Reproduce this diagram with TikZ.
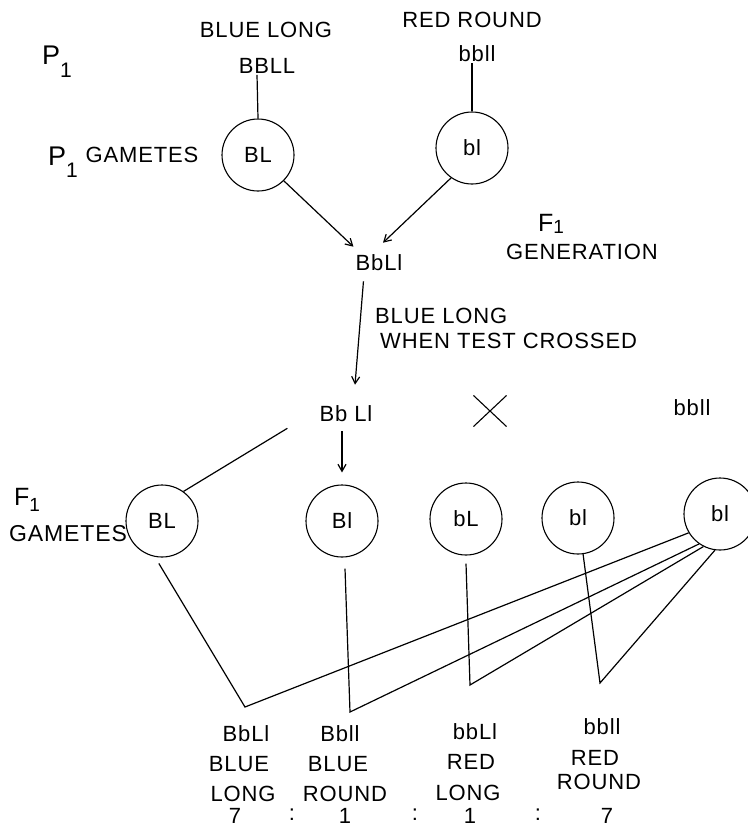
\documentclass[tikz,border=0pt]{standalone}
\usepackage{fontspec}
\setmainfont{Liberation Sans}[LetterSpace=4]
\usetikzlibrary{arrows.meta,shapes.misc}
\begin{document}
\begin{tikzpicture}[x=1pt,y=-1pt,
  lbl/.style={font=\fontsize{22}{24}\selectfont, inner sep=1pt},
  big/.style={font=\fontsize{27}{29}\selectfont, inner sep=1pt},
  gam/.style={circle, draw, line width=1.1pt, minimum size=72pt, inner sep=0pt, font=\fontsize{22}{24}\selectfont},
  ln/.style={line width=1.2pt},
  arr/.style={ln, -{Straight Barb[length=7pt,width=8pt]}}]
\useasboundingbox (0,0) rectangle (747,830);
\fill[white] (0,0) rectangle (747,830);

% P1 parents
\node[big, anchor=west] (P1a) at (41,62) {P\raisebox{-13pt}{\fontsize{21}{21}\selectfont 1}};
\node[lbl] (blueLongT) at (266,30) {BLUE LONG};
\node[lbl] (BBLL) at (267,66) {BBLL};
\node[lbl] (redRoundT) at (472,20) {RED ROUND};
\node[lbl] (bbllT) at (477,54) {bbll};

% P1 gametes
\node[big, anchor=west] (P1b) at (47,162) {P\raisebox{-12pt}{\fontsize{21}{21}\selectfont 1}};
\node[lbl] (gamT1) at (142,155) {GAMETES};
\node[gam] (cBL1) at (258,155) {BL};
\node[gam] (cbl1) at (472,148) {bl};

% F1
\node[lbl] (BbLl) at (379,263) {BbLl};
\node[lbl, font=\fontsize{25}{27}\selectfont] (F1gen) at (551,224) {F\raisebox{-2pt}{\fontsize{19}{19}\selectfont 1}};
\node[lbl] (genT) at (582,252) {GENERATION};
\node[lbl, anchor=west] (tc1) at (374,316) {BLUE LONG};
\node[lbl, anchor=west] (tc2) at (379,341) {WHEN TEST CROSSED};

% test cross
\node[lbl] (BbLl2) at (346,414) {Bb Ll};
\node[draw, cross out, line width=1.1pt, minimum width=32pt, minimum height=30pt, inner sep=0pt] (X) at (490,411) {};
\node[lbl] (bbllR) at (692,408) {bbll};

% F1 gametes
\node[lbl, font=\fontsize{25}{27}\selectfont, anchor=west] (F1g) at (13,500) {F\raisebox{-6pt}{\fontsize{19}{19}\selectfont 1}};
\node[lbl, font=\fontsize{23}{25}\selectfont] (gamT2) at (68,534) {GAMETES};
\node[gam] (cBL2) at (162,521) {BL};
\node[gam] (cBl) at (342,521) {Bl};
\node[gam] (cbL) at (466,519) {bL};
\node[gam] (cbl2) at (578,518) {bl};
\node[gam] (cbl3) at (720,514) {bl};

% offspring labels
\node[lbl] (o1a) at (246,734) {BbLl};
\node[lbl] (o2a) at (340,734) {Bbll};
\node[lbl] (o3a) at (475,732) {bbLl};
\node[lbl] (o4a) at (602,727) {bbll};
\node[lbl] (o1b) at (239,764) {BLUE};
\node[lbl] (o2b) at (338,764) {BLUE};
\node[lbl] (o3b) at (471,762) {RED};
\node[lbl] (o4b) at (595,758) {RED};
\node[lbl] (o1c) at (243,794) {LONG};
\node[lbl] (o2c) at (345,794) {ROUND};
\node[lbl] (o3c) at (468,793) {LONG};
\node[lbl] (o4c) at (599,782) {ROUND};
\node[lbl] (n1) at (235,816) {7};
\node[lbl] (s1) at (292,815) {:};
\node[lbl] (n2) at (345,816) {1};
\node[lbl] (s2) at (415,815) {:};
\node[lbl] (n3) at (470,816) {1};
\node[lbl] (s3) at (538,815) {:};
\node[lbl] (n4) at (607,816) {7};

% connectors
\draw[ln] ([xshift=-10pt]BBLL.south) -- (cBL1.north);
\draw[ln] ([xshift=-5pt]bbllT.south) -- (cbl1.north);
\draw[arr] (cBL1.-45) -- ([xshift=-1pt,yshift=7pt]BbLl.north west);
\draw[arr] (cbl1.-125) -- ([xshift=4pt,yshift=11pt]BbLl.north);
\draw[arr] ([xshift=9pt,yshift=-9pt]BbLl.south west) -- ([xshift=9pt,yshift=20pt]BbLl2.north);
\draw[ln] (cBL2.54) -- ([xshift=-31pt,yshift=-5pt]BbLl2.south west);
\draw[arr, shorten <=8pt, shorten >=12pt] (BbLl2.south -| cBl.north) -- (cBl.north);

\coordinate (vA) at (245,707);
\coordinate (vB) at (350,712);
\coordinate (vC) at (470,685);
\coordinate (vD) at (600,683);
\draw[ln] ([yshift=-6pt]cBL2.265) -- (vA) -- (cbl3.211);
\draw[ln] ([xshift=3pt,yshift=-11pt]cBl.south) -- (vB) -- (cbl3.235);
\draw[ln] ([yshift=-8pt]cbL.south) -- (vC) -- (cbl3.243);
\draw[ln] (cbl2.278) -- (vD) -- (cbl3.262);
\end{tikzpicture}
\end{document}
